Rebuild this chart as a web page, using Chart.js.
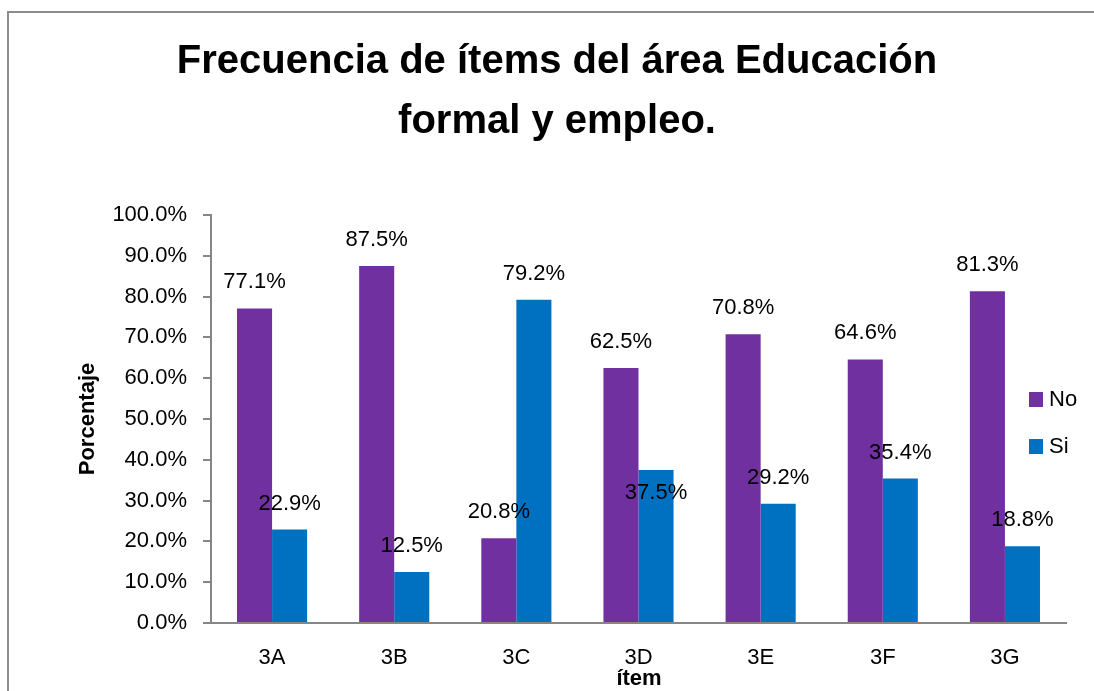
<!DOCTYPE html>
<html>
<head>
<meta charset="utf-8">
<script src="https://cdn.jsdelivr.net/npm/chart.js@4"></script>
<style>
  html, body { margin: 0; padding: 0; background: #fff; }
  #wrap { position: relative; width: 1094px; height: 691px; }
  canvas { display: block; }
</style>
</head>
<body>
<div id="wrap"><canvas id="c" width="1094" height="691"></canvas></div>
<script>
const categories = ['3A', '3B', '3C', '3D', '3E', '3F', '3G'];
const seriesNo = [77.1, 87.5, 20.8, 62.5, 70.8, 64.6, 81.3];
const seriesSi = [22.9, 12.5, 79.2, 37.5, 29.2, 35.4, 18.8];
const seriesNames = ['No', 'Si'];
const yTicks = [0, 10, 20, 30, 40, 50, 60, 70, 80, 90, 100];
const titleLines = ['Frecuencia de ítems del área Educación', 'formal y empleo.'];
const yTitle = 'Porcentaje';
const xTitle = 'ítem';

const FONT = "'Liberation Sans', Arial, sans-serif";
const AXIS_GRAY = '#868686';

const framePlugin = {
  id: 'frame',
  beforeDraw(chart) {
    const ctx = chart.ctx;
    ctx.save();
    ctx.fillStyle = '#fff';
    ctx.fillRect(0, 0, chart.width, chart.height);
    ctx.strokeStyle = '#8c8c8c';
    ctx.lineWidth = 2;
    ctx.beginPath();
    ctx.moveTo(8, chart.height + 5);
    ctx.lineTo(8, 12);
    ctx.lineTo(chart.width + 5, 12);
    ctx.stroke();
    ctx.restore();
  },
  afterDraw(chart) {
    const ctx = chart.ctx;
    const ca = chart.chartArea;
    ctx.save();
    // title
    ctx.fillStyle = '#000';
    ctx.textAlign = 'center';
    ctx.textBaseline = 'middle';
    ctx.font = "bold 40px " + FONT;
    ctx.fillText(titleLines[0], 557, 62);
    ctx.fillText(titleLines[1], 557, 122);
    // axis titles
    ctx.font = "bold 22px " + FONT;
    ctx.fillText(xTitle, 639, 679);
    ctx.save();
    ctx.translate(88, (ca.top + ca.bottom) / 2);
    ctx.rotate(-Math.PI / 2);
    ctx.fillText(yTitle, 0, 0);
    ctx.restore();
    // data labels
    ctx.font = "22px " + FONT;
    const nudge = chart.options.plugins.frame.nudge || {};
    chart.data.datasets.forEach((ds, di) => {
      const meta = chart.getDatasetMeta(di);
      meta.data.forEach((bar, i) => {
        const v = ds.data[i];
        const dy = nudge[di + ':' + i] || 0;
        ctx.fillText(v.toFixed(1) + '%', bar.x, bar.y - 26 + dy);
      });
    });
    // legend
    ctx.textAlign = 'left';
    ctx.font = "22px " + FONT;
    const ly = [399, 446];
    chart.data.datasets.forEach((ds, di) => {
      ctx.fillStyle = ds.backgroundColor;
      ctx.fillRect(1029, ly[di] - 7, 14, 15);
      ctx.fillStyle = '#000';
      ctx.fillText(ds.label, 1049, ly[di] + 1);
    });
    ctx.restore();
  }
};

new Chart(document.getElementById('c'), {
  type: 'bar',
  data: {
    labels: categories,
    datasets: [
      { label: seriesNames[0], data: seriesNo, backgroundColor: '#7030A0', borderWidth: 0 },
      { label: seriesNames[1], data: seriesSi, backgroundColor: '#0070C0', borderWidth: 0 }
    ]
  },
  options: {
    responsive: false,
    animation: false,
    devicePixelRatio: 1,
    layout: { padding: { top: 215, right: 28, bottom: 0, left: 0 } },
    datasets: { bar: { barPercentage: 1.0, categoryPercentage: 0.574 } },
    plugins: {
      legend: { display: false },
      title: { display: false },
      tooltip: { enabled: false },
      frame: { nudge: { '1:3': 49 } }
    },
    scales: {
      x: {
        grid: { display: false, drawTicks: false },
        border: { color: AXIS_GRAY, width: 2 },
        ticks: { color: '#000', font: { family: FONT, size: 22 }, padding: 22, maxRotation: 0 },
        afterFit(s) { s.height = 68; }
      },
      y: {
        min: 0, max: 100,
        afterBuildTicks(s) { s.ticks = yTicks.map(v => ({ value: v })); },
        grid: { drawOnChartArea: false, tickLength: 8, color: AXIS_GRAY, lineWidth: 2 },
        border: { color: AXIS_GRAY, width: 2 },
        ticks: {
          color: '#000', font: { family: FONT, size: 22 }, padding: 16,
          callback: v => v.toFixed(1) + '%'
        },
        afterFit(s) { s.width = 211; }
      }
    }
  },
  plugins: [framePlugin]
});
</script>
</body>
</html>
